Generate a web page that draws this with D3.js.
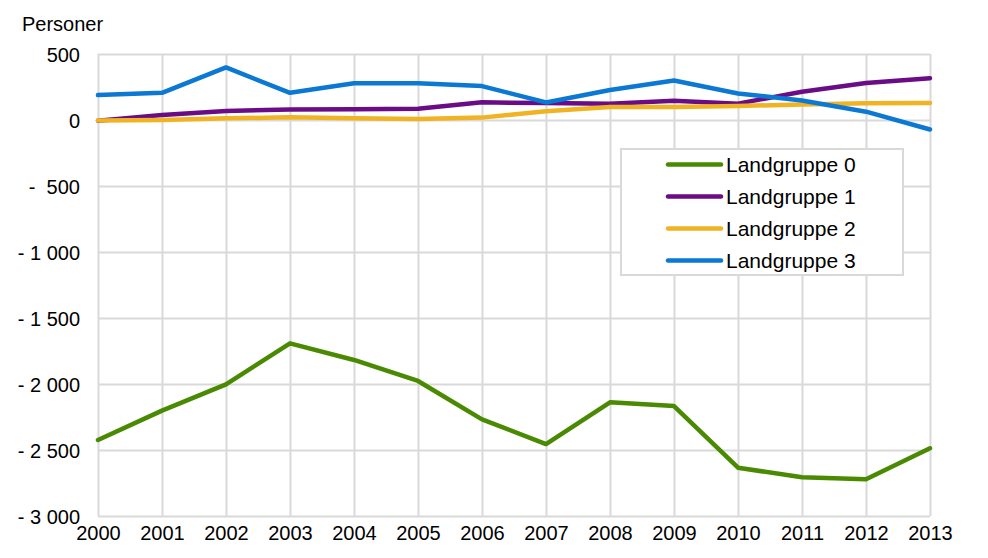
<!DOCTYPE html>
<html>
<head>
<meta charset="utf-8">
<script src="https://cdn.jsdelivr.net/npm/d3@7"></script>
<style>
  body { margin: 0; background: #fff; }
  svg { display: block; font-family: "Liberation Sans", Arial, sans-serif; }
  text { white-space: pre; }
</style>
</head>
<body>
<svg width="988" height="558"></svg>
<script>
// data
var years = [2000, 2001, 2002, 2003, 2004, 2005, 2006, 2007, 2008, 2009, 2010, 2011, 2012, 2013];
var seriesNames = ["Landgruppe 0", "Landgruppe 1", "Landgruppe 2", "Landgruppe 3"];
var landgruppe0 = [-2424, -2202, -2003, -1692, -1818, -1977, -2268, -2455, -2139, -2167, -2634, -2707, -2722, -2487];
var landgruppe1 = [-5, 38, 68, 80, 81, 86, 134, 128, 124, 145, 124, 214, 281, 317];
var landgruppe2 = [-3, 0, 13, 20, 13, 8, 18, 66, 98, 99, 106, 118, 127, 128];
var landgruppe3 = [189, 206, 398, 206, 278, 278, 257, 133, 227, 299, 201, 148, 63, -72];
var yTicks = [500, 0, -500, -1000, -1500, -2000, -2500, -3000];
var colors = ["#4a8a03", "#6a0c86", "#efb323", "#0b78d3"];

var svg = d3.select("svg");
var margin = {left: 98, right: 58, top: 54, bottom: 42};
var width = +svg.attr("width"),
  height = +svg.attr("height");

var x = d3.scalePoint()
  .domain(years)
  .range([margin.left, width - margin.right]);

var y = d3.scaleLinear()
  .domain([-3000, 500])
  .range([height - margin.bottom, margin.top]);

// Excel style "# ##0;- # ##0"
function fmtY(v) {
  if (v === 0) return "0";
  var a = Math.abs(v);
  var s = a >= 1000 ? Math.floor(a / 1000) + " " + d3.format("03d")(a % 1000) : " " + a;
  return v < 0 ? "- " + s : s.trim();
}

// grid
var grid = svg.append("g").attr("class", "grid");
grid.append("g")
  .attr("transform", "translate(" + margin.left + ",0)")
  .call(d3.axisLeft(y).tickValues(yTicks).tickSize(-(width - margin.left - margin.right)).tickFormat(""))
  .call(g => g.select(".domain").remove());
grid.append("g")
  .attr("transform", "translate(0," + margin.top + ")")
  .call(d3.axisBottom(x).tickSize(height - margin.top - margin.bottom).tickFormat(""))
  .call(g => g.select(".domain").remove());
grid.selectAll("line")
  .attr("stroke", "#d9d9d9")
  .attr("stroke-width", 2);

// y labels
var yAxis = svg.append("g")
  .attr("transform", "translate(80,0)")
  .call(d3.axisLeft(y).tickValues(yTicks).tickSize(0).tickPadding(0).tickFormat(fmtY));
yAxis.select(".domain").remove();
yAxis.selectAll("text")
  .attr("font-size", 20)
  .attr("font-family", "Liberation Sans, Arial, sans-serif")
  .attr("fill", "#000")
  .attr("dy", "0.36em");

// x labels
var xAxis = svg.append("g")
  .attr("transform", "translate(0," + (height - margin.bottom) + ")")
  .call(d3.axisBottom(x).tickSize(0).tickPadding(0));
xAxis.select(".domain").remove();
xAxis.selectAll("text")
  .attr("font-size", 20)
  .attr("font-family", "Liberation Sans, Arial, sans-serif")
  .attr("fill", "#000")
  .attr("y", 24)
  .attr("dy", 0);

svg.append("text")
  .attr("x", 22)
  .attr("y", 31)
  .attr("font-size", 20)
  .attr("fill", "#000")
  .text("Personer");

// lines
var allSeries = [landgruppe0, landgruppe1, landgruppe2, landgruppe3];
var line = d3.line()
  .x(function(d, i) { return x(years[i]); })
  .y(function(d) { return y(d); });

svg.append("g")
  .selectAll("path")
  .data(allSeries)
  .enter().append("path")
  .attr("d", line)
  .attr("fill", "none")
  .attr("stroke", function(d, i) { return colors[i]; })
  .attr("stroke-width", 4.5)
  .attr("stroke-linejoin", "round")
  .attr("stroke-linecap", "round");

// legend
var legend = svg.append("g").attr("transform", "translate(621,149)");
legend.append("rect")
  .attr("width", 282)
  .attr("height", 126)
  .attr("fill", "#fff")
  .attr("stroke", "#d9d9d9")
  .attr("stroke-width", 2);

var items = legend.selectAll(".item")
  .data(seriesNames)
  .enter().append("g")
  .attr("class", "item")
  .attr("transform", function(d, i) { return "translate(0," + (15.5 + i * 32) + ")"; });
items.append("line")
  .attr("x1", 47)
  .attr("x2", 100)
  .attr("stroke", function(d, i) { return colors[i]; })
  .attr("stroke-width", 4.5)
  .attr("stroke-linecap", "round");
items.append("text")
  .attr("x", 105)
  .attr("dy", "0.36em")
  .attr("font-size", 21)
  .attr("fill", "#000")
  .text(function(d) { return d; });
</script>
</body>
</html>
